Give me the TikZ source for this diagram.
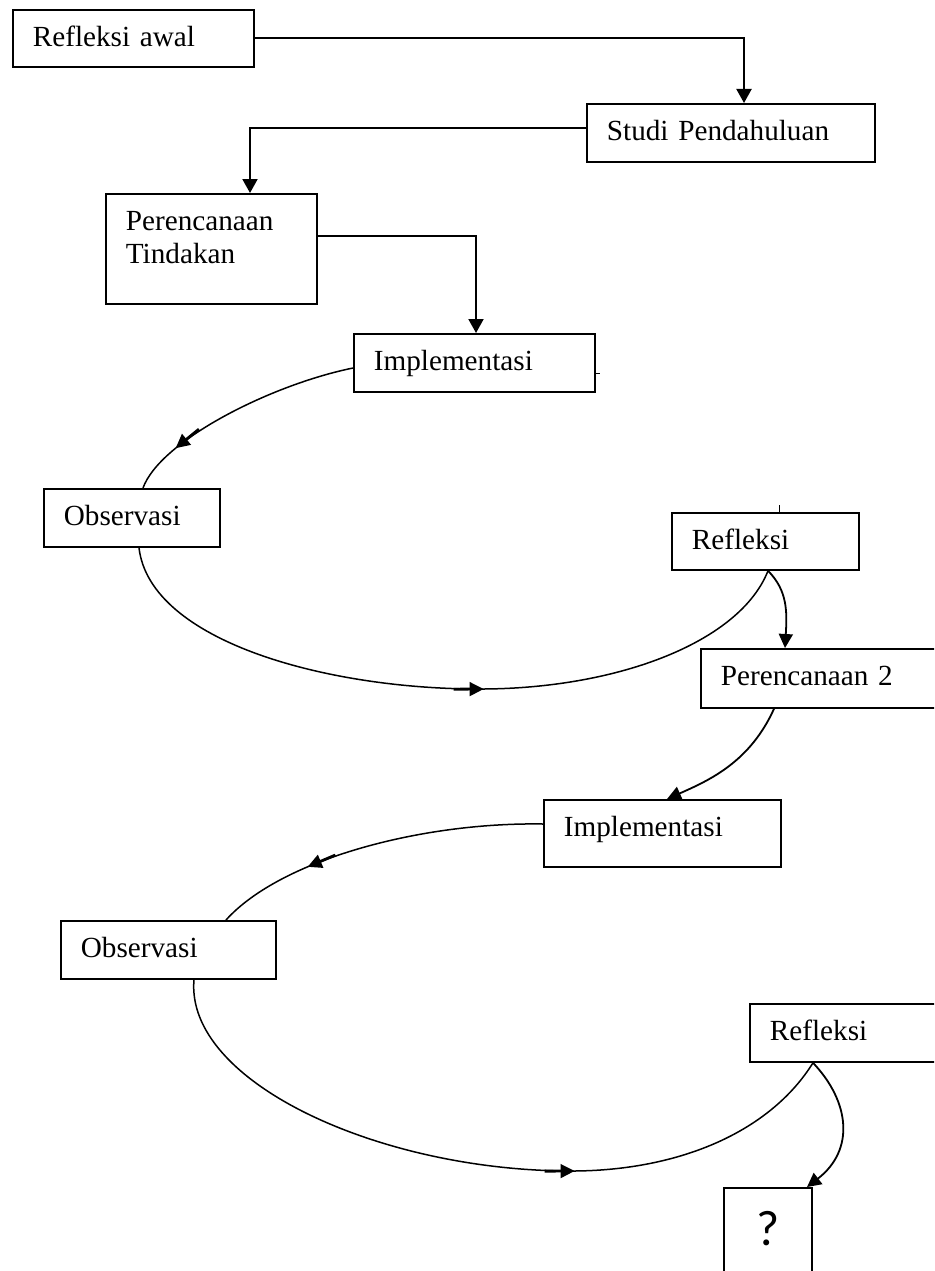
\documentclass[tikz,border=0pt]{standalone}
\usepackage{fontspec}
\setmainfont{Liberation Serif}
\newfontfamily\qfont{Carlito}
\usetikzlibrary{arrows.meta,calc,decorations.markings}
\begin{document}
\begin{tikzpicture}[x=1pt,y=-1pt,
  box/.style={draw, line width=1.8pt, anchor=north west, inner xsep=20pt, inner ysep=0pt,
    align=left, font=\fontsize{29.2}{33}\selectfont, text height=37pt},
  conn/.style={line width=2pt, -{Triangle[length=14pt,width=15pt]}},
  curve/.style={line width=1.5pt},
  tip/.style={-{Triangle[length=14pt,width=14pt]}},
  leadtip/.style={postaction={decorate}, decoration={markings,
    mark=at position #1 with {\draw[line width=2.8pt] (-30pt,0pt) -- (-8pt,0pt);
      \arrow{Triangle[length=14pt,width=14pt]}}}},
  tick/.style={line width=0.9pt}
]
\useasboundingbox (0,0) rectangle (934,1271);
\clip (0,0) rectangle (934,1271);

% boxes
\node[box, text width=201pt, text depth=20pt] (ra) at (12,9) {Refleksi awal};
\node[box, text width=248pt, text depth=21pt] (sp) at (586,103) {Studi Pendahuluan};
\node[box, text width=171pt, text depth=73pt] (pt) at (105,193) {Perencanaan\\Tindakan};
\node[box, text width=201pt, text depth=21pt] (im1) at (353,333) {Implementasi};
\node[box, text width=136pt, text depth=21pt] (ob1) at (43,488) {Observasi};
\node[box, text width=147pt, text depth=20pt] (rf1) at (671,512) {Refleksi};
\node[box, text width=205pt, text depth=22pt] (p2) at (700,648) {Perencanaan 2};
\node[box, text width=197pt, text depth=30pt] (im2) at (543,799) {Implementasi};
\node[box, text width=175pt, text depth=21pt] (ob2) at (60,920) {Observasi};
\node[box, text width=171pt, text depth=21pt] (rf2) at (749,1003) {Refleksi};
\node[draw, line width=1.8pt, anchor=north west, inner sep=0pt, text width=88pt, align=center,
  text height=58pt, text depth=60pt, font=\qfont\fontsize{50}{50}\selectfont] (q) at (723,1187) {?};

% waypoints
\coordinate (low1) at (484,689);
\coordinate (low2) at (575,1171);

% straight connectors
\draw[conn] (ra.east) -| ($(sp.north west)+(158,0)$);
\draw[conn] ($(sp.north west)+(0,25)$) -| ($(pt.north west)+(145,0)$);
\draw[conn] ($(pt.north east)+(0,43)$) -| ($(im1.north west)+(123,0)$);

% small marks
\draw[tick] ($(im1.north east)+(0,40)$) -- +(4,0);
\draw[tick] ($(rf1.north west)+(108,0)$) -- +(0,-7);

% first cycle
\draw[curve, leadtip=0.79] ($(im1.north west)+(0,35)$) .. controls +(-83,17) and +(17,-47) .. ($(ob1.north west)+(100,0)$);
\draw[curve, leadtip=0.999] ($(ob1.south west)+(96,0)$) .. controls +(11,94) and +(-155,1) .. (low1);
\draw[curve] (low1) .. controls +(135,-1) and +(-28,71) .. ($(rf1.south west)+(97,0)$);
\draw[curve, line width=1.8pt, tip] ($(rf1.south west)+(97,0)$) .. controls +(20,20) and +(2,-35) .. ($(p2.north west)+(85,0)$);
\draw[curve, line width=1.8pt, tip] ($(p2.south west)+(74,0)$) .. controls +(-24,53) and +(43,-19) .. ($(im2.north west)+(124,0)$);

% second cycle
\draw[curve, leadtip=0.71] ($(im2.north west)+(0,25)$) .. controls +(-123,-2) and +(54,-60) .. ($(ob2.north west)+(166,0)$);
\draw[curve, leadtip=0.999] ($(ob2.south west)+(134,0)$) .. controls +(-9,102) and +(-195,1) .. (low2);
\draw[curve] (low2) .. controls +(105,-1) and +(-43,69) .. ($(rf2.south west)+(64,0)$);
\draw[curve, line width=1.8pt, tip] ($(rf2.south west)+(64,0)$) .. controls +(37,39) and +(48,-37) .. ($(q.north west)+(84,0)$);
\end{tikzpicture}
\end{document}
